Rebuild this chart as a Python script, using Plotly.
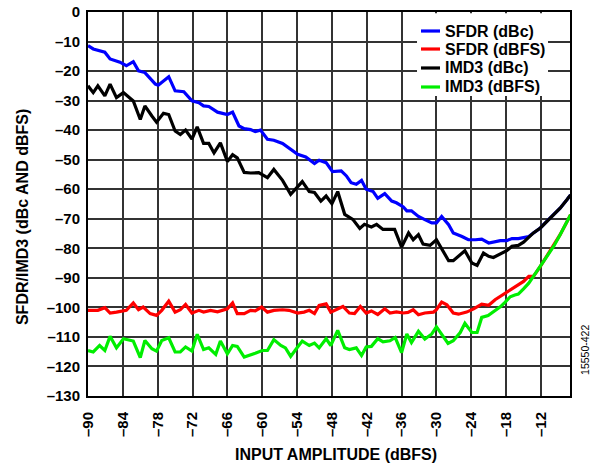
import plotly.graph_objects as go

# ---- data ----
sfdr_dbc_x = [-90, -89.1, -87.1, -86.2, -84.5, -83.4, -82.2, -81.3, -80.2, -78.4, -77.9, -76.1, -75.0, -73.5,
              -72.1, -70.9, -70.1, -69.2, -67.7, -66.0, -65.1, -64.0, -63.1, -62.0, -61.2, -60.3, -59.1, -58.0,
              -56.5, -55.1, -53.9, -52.5, -51.0, -50.2, -49.0, -47.9, -46.4, -45.5, -44.7, -43.8, -42.9, -42.1,
              -40.9, -40.1, -38.9, -37.7, -36.9, -35.7, -35.1, -34.3, -33.1, -32.0, -30.8, -30.0, -29.1, -27.9,
              -27.1, -25.6, -24.5, -23.3, -22.2, -21.0, -19.9, -19.0, -17.9, -17.0, -15.9, -15.0, -14.1, -13.3,
              -12.1, -11.0, -9.8, -8.7, -7.5, -6.9]
sfdr_dbc_y = [-11.4, -12.5, -13.6, -15.9, -17.0, -18.2, -16.8, -19.9, -20.5, -24.4, -24.8, -21.9, -26.7, -27.0,
              -30.1, -30.7, -31.8, -32.0, -33.9, -34.7, -33.9, -38.6, -39.5, -39.8, -40.5, -40.0, -43.1, -43.4,
              -44.5, -46.5, -48.2, -49.1, -51.3, -50.2, -51.0, -54.0, -53.8, -55.5, -57.8, -58.3, -57.0, -60.0,
              -60.8, -63.1, -61.5, -64.0, -64.6, -66.0, -67.3, -67.3, -69.2, -70.3, -71.4, -71.4, -69.2, -72.0,
              -74.8, -76.0, -77.1, -77.1, -76.9, -78.2, -77.9, -77.4, -77.4, -76.7, -76.7, -76.3, -76.0, -74.8,
              -73.1, -70.9, -68.6, -66.4, -63.5, -61.9]

sfdr_dbfs_x = [-90, -88.3, -87.1, -86.2, -85.1, -83.4, -82.2, -81.3, -80.5, -79.3, -78.2, -77.3, -76.1, -75.0,
               -74.1, -73.2, -72.1, -70.9, -70.1, -68.9, -67.7, -66.0, -65.1, -64.3, -63.1, -62.0, -61.2, -60.1,
               -59.1, -58.0, -56.5, -55.4, -53.9, -52.8, -51.9, -51.0, -50.2, -49.0, -48.2, -47.0, -46.1, -45.0,
               -44.1, -43.1, -42.1, -41.2, -40.1, -38.9, -38.0, -36.9, -35.7, -34.9, -34.0, -33.1, -32.0, -30.5,
               -30.0, -29.1, -28.2, -27.1, -26.2, -24.8, -23.6, -22.2, -21.0, -19.9, -18.7, -17.9, -17.0, -15.9,
               -15.0, -14.1, -13.3, -12.1, -11.0, -9.8, -8.7, -7.5, -6.9]
sfdr_dbfs_y = [-101.0, -101.0, -100.1, -101.9, -101.6, -101.0, -98.5, -100.8, -99.9, -102.1, -102.7, -101.0,
               -97.9, -101.6, -100.8, -99.0, -101.9, -101.0, -101.6, -101.0, -101.5, -100.5, -98.5, -102.1,
               -102.1, -101.0, -101.2, -99.9, -101.6, -101.0, -100.8, -101.0, -101.9, -101.6, -101.0, -102.1,
               -99.3, -98.8, -101.6, -100.5, -99.7, -101.9, -102.1, -99.7, -101.9, -101.2, -102.4, -100.5,
               -101.9, -101.5, -101.9, -101.7, -100.8, -102.5, -101.9, -101.6, -100.8, -98.2, -99.1, -101.9,
               -102.3, -101.6, -100.5, -98.9, -99.3, -97.4, -95.9, -94.8, -93.5, -92.3, -91.2, -89.5, -89.5,
               -86.1, -82.7, -79.3, -75.4, -70.9, -68.6]

imd3_dbc_x = [-90, -89.1, -88.3, -87.1, -86.2, -85.1, -83.9, -82.2, -81.0, -80.2, -79.0, -78.2, -77.0, -76.1,
              -75.0, -74.1, -73.2, -72.1, -71.2, -70.1, -69.2, -68.3, -67.2, -66.0, -65.1, -64.3, -63.1, -62.0,
              -60.6, -59.1, -58.0, -56.5, -55.1, -53.1, -51.9, -51.0, -49.9, -49.0, -48.0, -47.0, -45.8, -44.4,
              -43.2, -42.4, -41.2, -40.3, -39.2, -37.2, -36.0, -34.8, -34.0, -33.1, -32.3, -31.1, -30.0, -28.8,
              -27.9, -27.1, -25.9, -25.1, -23.9, -23.0, -21.9, -21.0, -20.2, -19.0, -17.9, -17.0, -15.9, -15.0,
              -14.1, -13.3, -12.1, -11.0, -9.8, -8.7, -7.5, -6.9]
imd3_dbc_y = [-25.0, -27.3, -25.0, -28.4, -24.4, -29.0, -27.3, -30.1, -36.4, -31.8, -35.2, -37.3, -34.3, -34.7,
              -40.3, -41.5, -40.0, -43.0, -38.9, -44.5, -44.5, -47.7, -44.3, -50.6, -48.3, -49.4, -54.3, -54.5,
              -54.4, -56.1, -53.3, -57.0, -61.7, -57.4, -60.8, -61.1, -64.0, -62.3, -64.9, -60.8, -68.5, -70.2,
              -73.3, -71.9, -72.8, -71.9, -73.6, -73.6, -79.6, -74.8, -77.1, -75.4, -78.6, -79.0, -77.1, -81.0,
              -84.2, -84.2, -82.2, -80.8, -85.0, -85.8, -81.6, -82.7, -83.1, -81.9, -80.8, -79.3, -79.0, -77.9,
              -76.3, -74.8, -73.1, -70.9, -68.6, -66.4, -63.5, -61.9]

imd3_dbfs_x = [-90, -89.1, -88.0, -87.1, -86.2, -85.1, -83.9, -82.2, -81.0, -80.2, -79.0, -78.2, -77.3, -76.1,
               -75.0, -74.1, -73.2, -72.1, -71.2, -70.1, -69.2, -68.0, -67.2, -66.0, -65.1, -64.3, -63.1, -62.0,
               -61.2, -60.0, -59.1, -58.0, -56.8, -56.0, -55.1, -53.9, -53.1, -51.9, -51.0, -50.2, -49.0, -48.2,
               -47.0, -45.8, -45.0, -43.8, -42.9, -42.1, -41.2, -40.1, -39.2, -38.0, -37.1, -36.0, -35.1, -34.3,
               -33.1, -32.0, -30.8, -30.0, -28.8, -28.0, -27.1, -25.9, -25.1, -23.9, -23.0, -22.2, -21.1, -19.9,
               -19.0, -18.2, -17.3, -16.5, -15.9, -15.0, -14.1, -13.3, -12.1, -11.0, -9.8, -8.7, -7.5, -6.9]
imd3_dbfs_y = [-114.6, -115.1, -112.9, -114.6, -109.8, -113.7, -110.6, -111.4, -117.0, -111.2, -114.0, -114.8,
               -111.2, -110.3, -115.1, -115.1, -113.4, -114.8, -109.1, -114.3, -113.7, -115.9, -111.4, -115.7,
               -112.9, -113.2, -116.8, -115.9, -115.5, -114.6, -114.6, -110.9, -112.9, -113.7, -116.6, -113.4,
               -111.4, -112.9, -112.1, -113.7, -110.6, -112.9, -107.8, -113.7, -114.3, -113.7, -116.3, -113.4,
               -113.2, -110.6, -111.7, -111.3, -110.2, -115.3, -109.0, -111.9, -108.1, -110.7, -109.0, -106.6,
               -110.2, -112.2, -111.3, -108.5, -105.4, -108.5, -108.5, -103.4, -102.8, -101.1, -99.8, -98.3,
               -96.4, -95.8, -95.5, -93.7, -91.8, -89.5, -86.1, -82.7, -79.3, -75.4, -70.9, -68.6]

x_ticks = [-90, -84, -78, -72, -66, -60, -54, -48, -42, -36, -30, -24, -18, -12]
y_ticks = list(range(0, -131, -10))

series = [
    ("SFDR (dBc)", sfdr_dbc_x, sfdr_dbc_y, "#0000ff"),
    ("SFDR (dBFS)", sfdr_dbfs_x, sfdr_dbfs_y, "#ff0000"),
    ("IMD3 (dBc)", imd3_dbc_x, imd3_dbc_y, "#000000"),
    ("IMD3 (dBFS)", imd3_dbfs_x, imd3_dbfs_y, "#00ee00"),
]

FONT = "Liberation Sans, Arial, sans-serif"

fig = go.Figure()
for name, xs, ys, col in series:
    fig.add_trace(go.Scatter(x=xs, y=ys, mode="lines", name=name,
                             line=dict(color=col, width=3.2), showlegend=False))

def lab(v):
    return str(v) if v >= 0 else "\u2013" + str(-v)

fig.update_layout(
    width=599, height=465,
    margin=dict(l=88, r=29, t=12, b=69, autoexpand=False),
    paper_bgcolor="white", plot_bgcolor="white",
    font=dict(family=FONT, size=15, color="black"),
    showlegend=False,
    xaxis=dict(range=[-90, -7], tickvals=x_ticks, ticktext=[lab(v) for v in x_ticks],
               tickangle=-90, showgrid=True, gridcolor="#333333", gridwidth=1.5,
               showline=True, linecolor="black", linewidth=2, mirror=True,
               ticks="", zeroline=False, automargin=False, ticklabelstandoff=8,
               tickfont=dict(family=FONT, size=15, weight="bold")),
    yaxis=dict(range=[-130, 0], tickvals=y_ticks, ticktext=[lab(v) for v in y_ticks],
               showgrid=True, gridcolor="#333333", gridwidth=1.5,
               showline=True, linecolor="black", linewidth=2, mirror=True,
               ticks="", zeroline=False, automargin=False, ticklabelstandoff=3,
               ticklabeloverflow="allow",
               tickfont=dict(family=FONT, size=15, weight="bold")),
)

# legend box (white panel over the grid, short colour swatches, bold labels)
fig.add_shape(type="rect", xref="paper", yref="paper", x0=0.6826, x1=0.9544, y0=0.7813, y1=0.9970,
              fillcolor="white", line=dict(width=0), layer="above")
row_y = [0.9505, 0.9036, 0.8542, 0.8047]
for (name, _, _, col), ry in zip(series, row_y):
    fig.add_shape(type="line", xref="paper", yref="paper", x0=0.6909, x1=0.7303, y0=ry, y1=ry,
                  line=dict(color=col, width=3.2), layer="above")
    fig.add_annotation(text="<b>" + name + "</b>", xref="paper", yref="paper", x=0.7365, y=ry,
                       xanchor="left", yanchor="middle", showarrow=False,
                       font=dict(family=FONT, size=16, color="black"))

fig.add_annotation(text="<b>INPUT AMPLITUDE (dBFS)</b>", xref="paper", yref="paper",
                   x=0.5145, y=0, yshift=-58, xanchor="center", yanchor="middle",
                   showarrow=False, font=dict(family=FONT, size=16, color="black"))
fig.add_annotation(text="<b>SFDR/IMD3 (dBc AND dBFS)</b>", xref="paper", yref="paper",
                   x=0, xshift=-66, y=0.466, xanchor="center", yanchor="middle", textangle=-90,
                   showarrow=False, font=dict(family=FONT, size=16, color="black"))
fig.add_annotation(text="15550-422", xref="paper", yref="paper", x=1.0, y=0.12,
                   xanchor="center", yanchor="middle", xshift=15, textangle=-90, showarrow=False,
                   font=dict(family=FONT, size=10.5, color="black"))

# remove the browser's default 8px page margin so the figure sits at the window's corner
fig.write_html("out.html", config={"displayModeBar": False},
               post_script="document.body.style.margin='0px';")
